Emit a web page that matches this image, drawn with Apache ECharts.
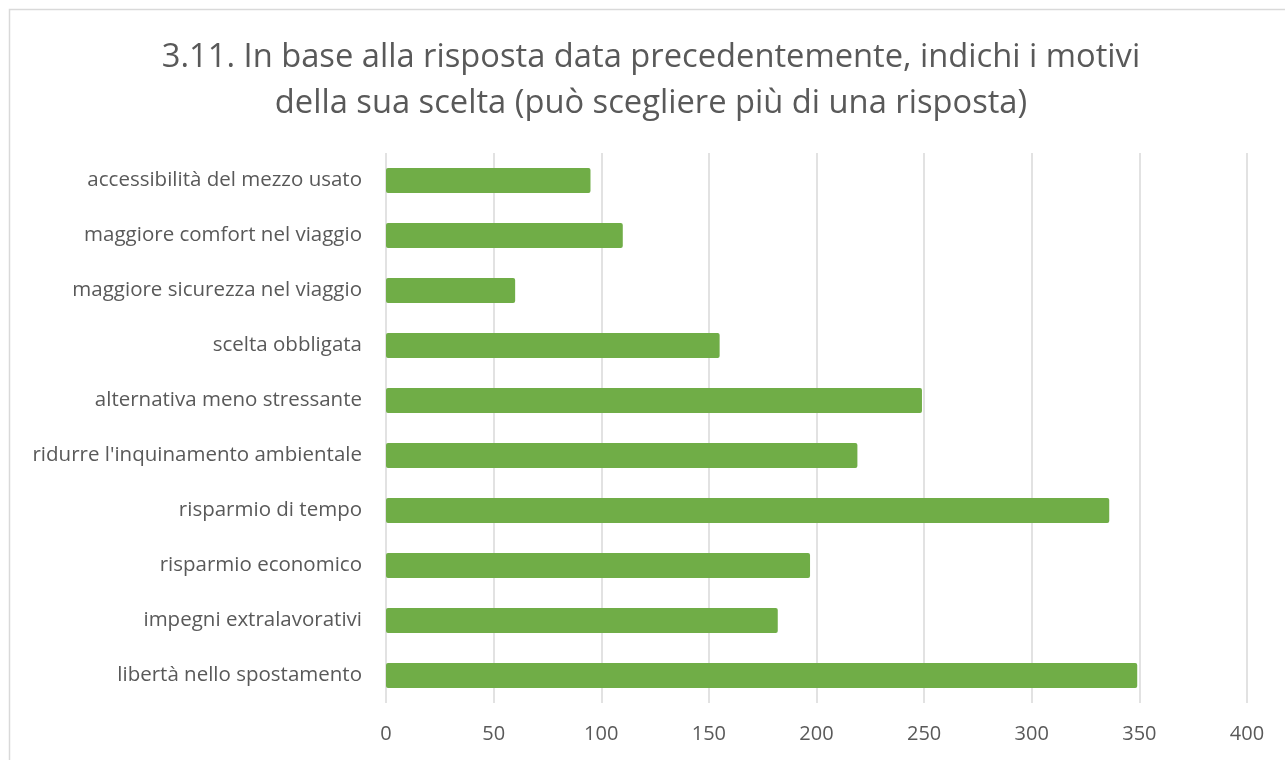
<!DOCTYPE html>
<html>
<head>
<meta charset="utf-8">
<script src="https://cdn.jsdelivr.net/npm/echarts@6/dist/echarts.min.js"></script>
<style>
  html, body { margin: 0; padding: 0; background: #fff; }
  #chart { width: 1285px; height: 760px; }
</style>
</head>
<body>
<div id="chart"></div>
<script>
// categories listed bottom -> top (as on the category axis)
const categories = [
  'libertà nello spostamento',
  'impegni extralavorativi',
  'risparmio economico',
  'risparmio di tempo',
  "ridurre l'inquinamento ambientale",
  'alternativa meno stressante',
  'scelta obbligata',
  'maggiore sicurezza nel viaggio',
  'maggiore comfort nel viaggio',
  'accessibilità del mezzo usato'
]
const values = [349, 182, 197, 336, 219, 249, 155, 60, 110, 95]
const axisMin = 0
const axisMax = 400
const axisStep = 50

const chart = echarts.init(document.getElementById('chart'))
const textColor = '#595959'
const font = '"Open Sans", "Noto Sans", sans-serif'

chart.setOption({
  animation: false,
  graphic: [
    {
      type: 'rect',
      shape: { x: 9.5, y: 9.5, width: 1300, height: 800 },
      style: { fill: 'none', stroke: '#d9d9d9', lineWidth: 1.5 },
      silent: true
    }
  ],
  title: {
    text: '3.11. In base alla risposta data precedentemente, indichi i motivi\ndella sua scelta (può scegliere più di una risposta)',
    left: 646,
    top: 30,
    textAlign: 'center',
    textStyle: {
      color: textColor,
      fontFamily: font,
      fontWeight: 'normal',
      fontSize: 32.7,
      lineHeight: 46
    }
  },
  grid: {
    left: 386,
    right: 38,
    top: 153,
    bottom: 57,
    containLabel: false
  },
  xAxis: {
    type: 'value',
    min: axisMin,
    max: axisMax,
    interval: axisStep,
    axisLine: { show: false },
    axisTick: { show: false },
    axisLabel: {
      color: textColor,
      fontFamily: font,
      fontSize: 20,
      margin: 21
    },
    splitLine: {
      lineStyle: { color: '#d9d9d9', width: 1.5 }
    }
  },
  yAxis: {
    type: 'category',
    data: categories,
    axisLine: { show: false },
    axisTick: { show: false },
    axisLabel: {
      color: textColor,
      fontFamily: font,
      fontSize: 20.5,
      margin: 24
    }
  },
  series: [
    {
      type: 'bar',
      data: values,
      barWidth: 25,
      itemStyle: {
        color: '#70ad47',
        borderRadius: 2
      }
    }
  ]
})
</script>
</body>
</html>
